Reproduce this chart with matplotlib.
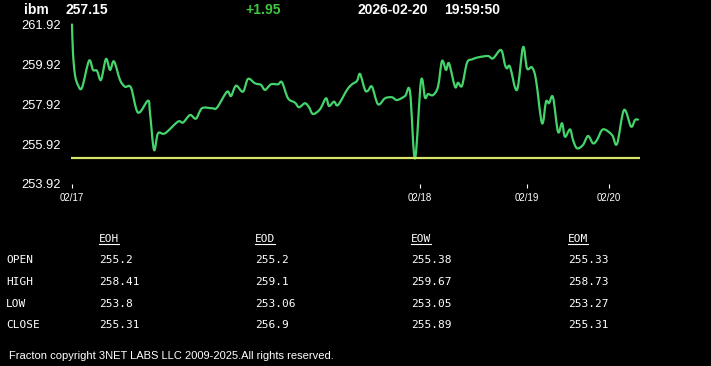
import matplotlib
matplotlib.use('Agg')
import matplotlib.pyplot as plt
from matplotlib.lines import Line2D
from matplotlib.path import Path
from matplotlib.patches import PathPatch

# ---- data ----
symbol = 'ibm'
last_price = '257.15'
change = '+1.95'
stamp_date = '2026-02-20'
stamp_time = '19:59:50'
prev_close = 255.20

# bar number / price
bars = [0, 1, 3, 6, 10, 17, 21, 25, 29, 34, 38, 42, 48, 53, 59, 66, 76, 78, 82, 86,
        93, 106, 111, 118, 124, 130, 140, 145, 155, 159, 164, 171, 176, 183, 189, 193,
        199, 206, 210, 216, 223, 227, 233, 237, 241, 248, 254, 257, 262, 266, 275, 280,
        285, 288, 293, 296, 300, 306, 313, 320, 325, 333, 338, 343, 349, 353, 356, 361,
        366, 370, 374, 377, 383, 386, 390, 395, 400, 406, 416, 421, 429, 433, 435, 438,
        445, 451, 455, 460, 464, 470, 474, 477, 481, 486, 490, 493, 498, 501, 505, 511,
        516, 521, 525, 531, 540, 545, 552, 559, 563, 566]
prices = [261.92, 260.48, 259.39, 258.88, 258.75, 260.10, 259.64, 259.60, 259.14, 260.19,
          259.64, 260.07, 259.14, 258.80, 258.75, 257.50, 258.10, 257.48, 255.63, 256.46,
          256.46, 257.05, 257.00, 257.38, 257.20, 257.72, 257.72, 257.75, 258.55, 258.33,
          258.85, 258.55, 259.19, 258.97, 258.89, 258.64, 258.92, 258.92, 259.02, 258.22,
          258.00, 257.77, 257.97, 257.77, 257.43, 257.67, 258.22, 257.83, 258.05, 257.88,
          258.64, 258.92, 259.09, 259.44, 258.64, 258.60, 258.80, 257.92, 258.22, 258.27,
          258.13, 258.33, 258.55, 255.20, 259.09, 258.25, 258.43, 258.38, 258.80, 260.09,
          259.64, 259.97, 258.80, 259.00, 258.85, 260.00, 260.17, 260.27, 260.34, 260.22,
          260.64, 259.89, 259.72, 259.80, 258.64, 260.78, 259.72, 259.77, 259.14, 256.97,
          258.05, 257.97, 258.27, 256.54, 256.97, 256.29, 256.66, 256.13, 255.71, 255.88,
          256.33, 255.96, 256.13, 256.66, 256.38, 255.93, 257.63, 256.80, 257.13, 257.15]

day_ticks = [0, 348, 455, 537]
day_labels = ['02/17', '02/18', '02/19', '02/20']
y_ticks = [253.92, 255.92, 257.92, 259.92, 261.92]

col_names = ['EOH', 'EOD', 'EOW', 'EOM']
row_names = ['OPEN', 'HIGH', 'LOW', 'CLOSE']
eoh = ['255.2', '258.41', '253.8', '255.31']
eod = ['255.2', '259.1', '253.06', '256.9']
eow = ['255.38', '259.67', '253.05', '255.89']
eom = ['255.33', '258.73', '253.27', '255.31']

W, H = 711, 366
GREEN = '#45d46c'
YELLOW = '#d9e56a'


def fx(px):
    return px / W


def fy(py):
    return 1 - py / H


def smooth_path(xs, ys):
    # catmull-rom style bezier through the points, like the original spline line
    n = len(xs)
    verts = [(xs[0], ys[0])]
    codes = [Path.MOVETO]
    for i in range(n - 1):
        x0, y0 = (xs[i - 1], ys[i - 1]) if i > 0 else (xs[i], ys[i])
        x1, y1 = xs[i], ys[i]
        x2, y2 = xs[i + 1], ys[i + 1]
        x3, y3 = (xs[i + 2], ys[i + 2]) if i + 2 < n else (x2, y2)
        c1 = (x1 + (x2 - x0) / 6, y1 + (y2 - y0) / 6)
        c2 = (x2 - (x3 - x1) / 6, y2 - (y3 - y1) / 6)
        verts += [c1, c2, (x2, y2)]
        codes += [Path.CURVE4] * 3
    return Path(verts, codes)


fig = plt.figure(figsize=(W / 100, H / 100), dpi=100, facecolor='black')
ax = fig.add_axes([fx(71), fy(184), fx(640) - fx(71), fy(24.5) - fy(184)])
ax.set_facecolor('black')

ax.axhline(prev_close, color=YELLOW, lw=1.6)
ax.add_patch(PathPatch(smooth_path(bars, prices), fill=False, edgecolor=GREEN, lw=1.6,
                       clip_on=False, joinstyle='round', capstyle='round'))

ax.set_xlim(-1, 568)
ax.set_ylim(253.92, 261.92)
ax.set_yticks(y_ticks)
ax.set_yticklabels([f'{v:.2f}' for v in y_ticks], fontfamily='Liberation Sans', fontsize=9.3, color='white')
ax.set_xticks(day_ticks)
ax.set_xticklabels(day_labels, fontfamily='Liberation Sans', fontsize=7, color='white')
ax.tick_params(axis='y', length=0, pad=7)
ax.tick_params(axis='x', length=3, width=0.8, color='white', direction='out', pad=3.5)
for s in ax.spines.values():
    s.set_visible(False)

# header line
hdr = dict(fontfamily='Liberation Sans', fontsize=10, fontweight='bold', va='baseline')
fig.text(fx(23.6), fy(14), symbol, color='white', **hdr)
fig.text(fx(65.8), fy(14), last_price, color='white', **hdr)
fig.text(fx(245), fy(14), change, color='#3ec83e', **hdr)
fig.text(fx(358), fy(14), stamp_date, color='white', **hdr)
fig.text(fx(444), fy(14), stamp_time, color='white', **hdr)

# summary table
mono = dict(fontfamily='DejaVu Sans Mono', fontsize=8, color='white', va='baseline')
col_x = [99, 255, 411, 568]
row_y = [263, 285, 307, 328.5]
for cx, name in zip(col_x, col_names):
    fig.text(fx(cx), fy(241.7), name, **mono)
    fig.add_artist(Line2D([fx(cx), fx(cx + 20)], [fy(243.5), fy(243.5)], color='white', lw=0.8))
for ry, name in zip(row_y, row_names):
    fig.text(fx(6), fy(ry), name, **mono)
for cx, col in zip(col_x, [eoh, eod, eow, eom]):
    for ry, val in zip(row_y, col):
        fig.text(fx(cx), fy(ry), val, **mono)

fig.text(fx(9), fy(359), 'Fracton copyright 3NET LABS LLC 2009-2025.All rights reserved.',
         fontfamily='Liberation Sans', fontsize=8, color='white', va='baseline')

fig.savefig('out.png', dpi=100, facecolor='black')
